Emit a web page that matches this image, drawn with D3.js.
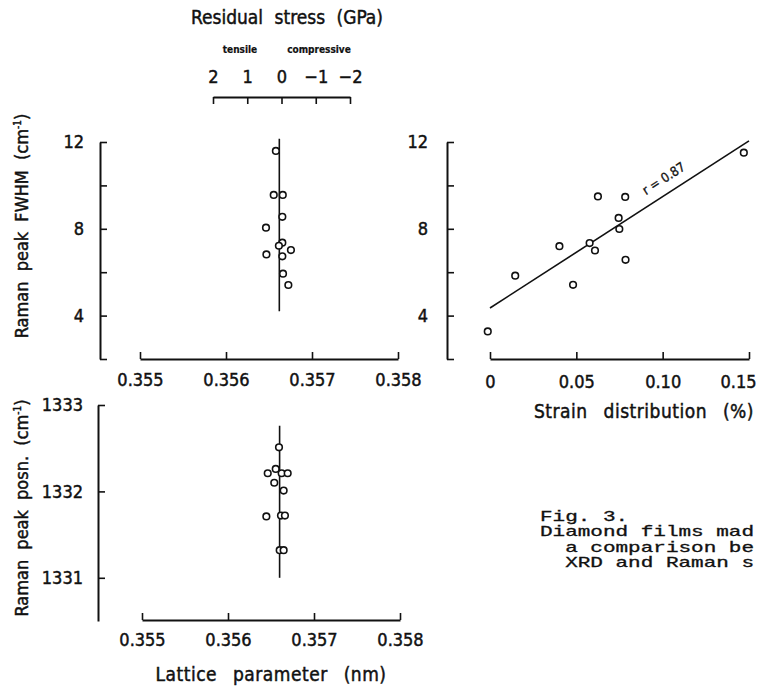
<!DOCTYPE html>
<html>
<head>
<meta charset="utf-8">
<script src="https://cdn.jsdelivr.net/npm/d3@7"></script>
<style>
  body { margin: 0; background: #fff; }
  text { font-family: "DejaVu Sans Condensed", "Liberation Sans Narrow", sans-serif; fill: #111; stroke: #111; stroke-width: 0.45px; }
  text.cap { font-family: "Liberation Mono", "DejaVu Sans Mono", monospace; stroke-width: 0.3px; }
</style>
</head>
<body>
<script>
// values
let fwhmLattice = [0.35658, 0.356555, 0.35666, 0.356655, 0.356465, 0.356655, 0.356615, 0.356755, 0.35647, 0.356655, 0.356663, 0.356725];
let fwhmValues  = [11.59, 9.56, 9.56, 8.55, 8.05, 7.36, 7.22, 7.02, 6.82, 6.73, 5.93, 5.41];
let strainValues = [0.147, 0.0625, 0.0783, 0.0745, 0.0749, 0.0402, 0.0577, 0.0608, 0.0785, 0.0146, 0.0481, -0.0013];
let strainFwhm   = [11.51, 9.49, 9.47, 8.50, 7.99, 7.20, 7.34, 7.00, 6.57, 5.84, 5.42, 3.27];
let posnLattice = [0.356593, 0.356555, 0.356462, 0.356624, 0.356694, 0.356538, 0.356647, 0.356446, 0.356616, 0.356662, 0.356601, 0.356647];
let posnValues  = [1332.51, 1332.26, 1332.21, 1332.21, 1332.21, 1332.10, 1332.01, 1331.71, 1331.72, 1331.72, 1331.32, 1331.32];
let fitStrain = [0, 0.15];
let fitFwhm = [4.35, 12.05];
let meanLattice = 0.35662;
let meanFwhmRange = [4.2, 12.15];
let meanPosnRange = [1331.0, 1332.76];
let stressTicks = [2, 1, 0, -1, -2];
let latticeTicks = [0.355, 0.356, 0.357, 0.358];
let strainTicks = [0, 0.05, 0.10, 0.15];
let fwhmTicks = [2, 4, 6, 8, 10, 12];
let fwhmLabels = [4, 8, 12];
let posnTicks = [1331, 1332, 1333];
let captionLines = ["Fig. 3.", "Diamond films mad", "  a comparison be", "  XRD and Raman s"];

let width = 762, height = 687;
let svg = d3.select("body").append("svg").attr("width", width).attr("height", height);

let xLatTop = d3.scaleLinear().domain([0.355, 0.358]).range([140, 398]);
let yFwhm = d3.scaleLinear().domain([2, 12]).range([359, 142]);
let xStrain = d3.scaleLinear().domain([0, 0.15]).range([490, 749]);
let xLatBot = d3.scaleLinear().domain([0.355, 0.358]).range([142, 400]);
let yPosn = d3.scaleLinear().domain([1330.5, 1333]).range([621, 405]);
// stress axis: 0 GPa sits on the mean lattice parameter
let xStress = d3.scaleLinear().domain([2, -2]).range([213, 350]);

function styleAxis(g) {
  g.select(".domain").attr("stroke", "#111").attr("stroke-width", 2);
  g.selectAll(".tick line").attr("stroke", "#111").attr("stroke-width", 1.6);
  g.selectAll(".tick text").style("font-size", "18px").attr("fill", "#111");
}

// ---- top left : FWHM vs lattice
svg.append("g").attr("transform", "translate(100,0)")
  .call(d3.axisLeft(yFwhm).tickValues(fwhmTicks).tickSizeInner(-7).tickSizeOuter(0).tickPadding(16)
    .tickFormat(d => fwhmLabels.includes(d) ? d : ""))
  .call(styleAxis);
svg.append("g").attr("transform", "translate(0,359)")
  .call(d3.axisBottom(xLatTop).tickValues(latticeTicks).tickSizeInner(-7).tickSizeOuter(0).tickPadding(14)
    .tickFormat(d3.format(".3f")))
  .call(styleAxis);
svg.append("line")
  .attr("x1", xLatTop(meanLattice)).attr("x2", xLatTop(meanLattice))
  .attr("y1", yFwhm(meanFwhmRange[1])).attr("y2", yFwhm(meanFwhmRange[0]))
  .attr("stroke", "#111").attr("stroke-width", 1.6);
svg.append("g").selectAll("circle").data(d3.range(fwhmValues.length)).join("circle")
  .attr("cx", i => xLatTop(fwhmLattice[i])).attr("cy", i => yFwhm(fwhmValues[i]))
  .attr("r", 3.3).attr("fill", "#fff").attr("stroke", "#111").attr("stroke-width", 1.6);
svg.append("text").attr("transform", "translate(28,226) rotate(-90)")
  .attr("text-anchor", "middle").style("font-size", "18px").style("word-spacing", "5px")
  .html('Raman peak FWHM (cm<tspan dy="-7" style="font-size:10px">-1</tspan><tspan dy="7">)</tspan>');

// ---- stress axis on top
svg.append("g").attr("transform", "translate(0,97)")
  .call(d3.axisTop(xStress).tickValues(stressTicks).tickSizeInner(-7).tickSizeOuter(0).tickPadding(14)
    .tickFormat(d3.format("d")))
  .call(styleAxis);
svg.append("text").attr("x", 240).attr("y", 53).attr("text-anchor", "middle")
  .style("font-size", "10px").style("font-weight", "bold").style("stroke-width", "0.2px").text("tensile");
svg.append("text").attr("x", 319).attr("y", 53).attr("text-anchor", "middle")
  .style("font-size", "10px").style("font-weight", "bold").style("stroke-width", "0.2px").text("compressive");
svg.append("text").attr("x", 287).attr("y", 24).attr("text-anchor", "middle")
  .style("font-size", "19px").style("word-spacing", "6px").text("Residual stress (GPa)");

// ---- top right : FWHM vs strain
svg.append("g").attr("transform", "translate(447,0)")
  .call(d3.axisLeft(yFwhm).tickValues(fwhmTicks).tickSizeInner(-7).tickSizeOuter(0).tickPadding(19)
    .tickFormat(d => fwhmLabels.includes(d) ? d : ""))
  .call(styleAxis);
svg.append("g").attr("transform", "translate(0,359)")
  .call(d3.axisBottom(xStrain).tickValues(strainTicks).tickSizeInner(-7).tickSizeOuter(0).tickPadding(16)
    .tickFormat(d => d === 0 ? "0" : d.toFixed(2)))
  .call(styleAxis)
  .call(g => g.selectAll(".tick text").filter(d => d === 0.15).attr("dx", -11));
svg.append("line")
  .attr("x1", xStrain(fitStrain[0])).attr("y1", yFwhm(fitFwhm[0]))
  .attr("x2", xStrain(fitStrain[1])).attr("y2", yFwhm(fitFwhm[1]))
  .attr("stroke", "#111").attr("stroke-width", 1.6);
svg.append("g").selectAll("circle").data(d3.range(strainFwhm.length)).join("circle")
  .attr("cx", i => xStrain(strainValues[i])).attr("cy", i => yFwhm(strainFwhm[i]))
  .attr("r", 3.3).attr("fill", "#fff").attr("stroke", "#111").attr("stroke-width", 1.6);
let ang = Math.atan2(yFwhm(fitFwhm[1]) - yFwhm(fitFwhm[0]), xStrain(fitStrain[1]) - xStrain(fitStrain[0])) * 180 / Math.PI;
svg.append("text").attr("transform", `translate(${xStrain(0.102)},${yFwhm(10.15)}) rotate(${ang})`)
  .attr("text-anchor", "middle").style("font-size", "13px").style("stroke-width", "0.3px").text("r = 0.87");
svg.append("text").attr("x", 644).attr("y", 418).attr("text-anchor", "middle")
  .style("font-size", "19px").style("word-spacing", "10px").style("letter-spacing", "0.5px").text("Strain distribution (%)");

// ---- bottom left : peak position vs lattice
svg.append("g").attr("transform", "translate(98,0)")
  .call(d3.axisLeft(yPosn).tickValues(posnTicks).tickSizeInner(-7).tickSizeOuter(0).tickPadding(15)
    .tickFormat(d3.format("d")))
  .call(styleAxis);
svg.append("g").attr("transform", "translate(0,620)")
  .call(d3.axisBottom(xLatBot).tickValues(latticeTicks).tickSizeInner(-7).tickSizeOuter(0).tickPadding(13)
    .tickFormat(d3.format(".3f")))
  .call(styleAxis);
svg.append("line")
  .attr("x1", xLatBot(0.3566)).attr("x2", xLatBot(0.3566))
  .attr("y1", yPosn(meanPosnRange[1])).attr("y2", yPosn(meanPosnRange[0]))
  .attr("stroke", "#111").attr("stroke-width", 1.6);
svg.append("g").selectAll("circle").data(d3.range(posnValues.length)).join("circle")
  .attr("cx", i => xLatBot(posnLattice[i])).attr("cy", i => yPosn(posnValues[i]))
  .attr("r", 3.3).attr("fill", "#fff").attr("stroke", "#111").attr("stroke-width", 1.6);
svg.append("text").attr("transform", "translate(28,508) rotate(-90)")
  .attr("text-anchor", "middle").style("font-size", "18px").style("word-spacing", "5px")
  .html('Raman peak posn. (cm<tspan dy="-7" style="font-size:10px">-1</tspan><tspan dy="7">)</tspan>');
svg.append("text").attr("x", 271).attr("y", 681).attr("text-anchor", "middle")
  .style("font-size", "19px").style("word-spacing", "10px").style("letter-spacing", "0.5px").text("Lattice parameter (nm)");

// ---- caption
let cap = svg.append("g").attr("transform", "translate(540,0) scale(1.5,1)");
cap.selectAll("text").data(captionLines).join("text").attr("class", "cap")
  .attr("x", 0).attr("y", (d, i) => 521 + i * 15.4)
  .attr("xml:space", "preserve").style("white-space", "pre")
  .style("font-size", "14px").text(d => d);
</script>
</body>
</html>
